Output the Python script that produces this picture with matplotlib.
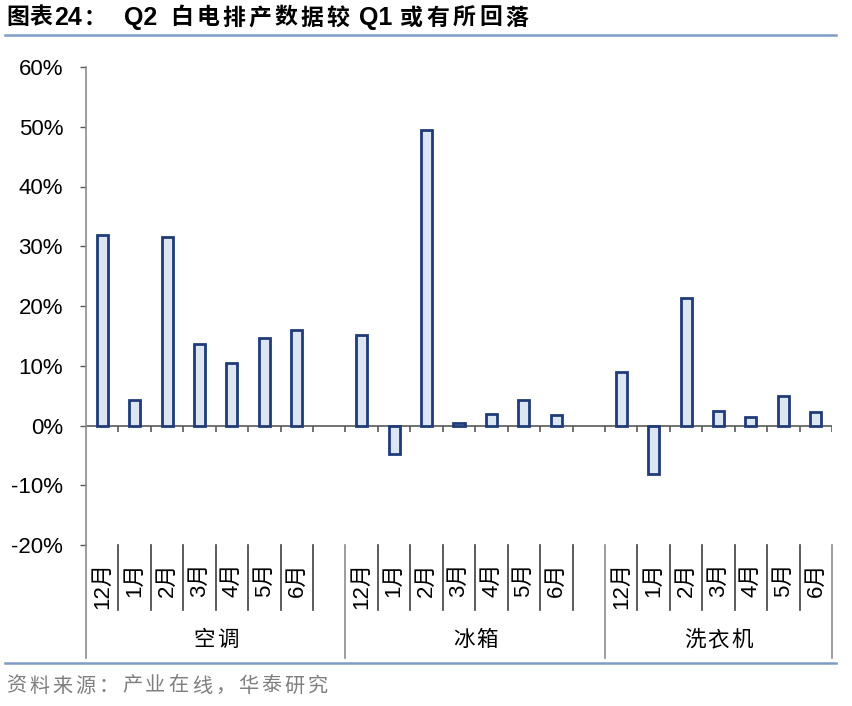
import matplotlib
matplotlib.use("Agg")
import matplotlib.pyplot as plt
from matplotlib.lines import Line2D
import matplotlib.transforms as mtransforms

# data
groups = ["空调", "冰箱", "洗衣机"]
months = ["12月", "1月", "2月", "3月", "4月", "5月", "6月"]
ac_vals = [31.8, 4.2, 31.5, 13.6, 10.4, 14.7, 15.9]
fridge_vals = [15.1, -4.7, 49.4, 0.5, 2.0, 4.2, 1.8]
washer_vals = [9.0, -8.1, 21.4, 2.4, 1.5, 5.0, 2.2]

source = "资料来源：产业在线，华泰研究"

plt.rcParams["font.family"] = ["Liberation Sans", "Noto Sans CJK SC", "DejaVu Sans"]

W, H = 852, 706
fig = plt.figure(figsize=(W / 100, H / 100), dpi=100)


def spaced(x_px, y_px, s, step, **kw):
    # CJK text with wider letter spacing, one char at a time
    for i, ch in enumerate(s):
        fig.text((x_px + i * step) / W, 1 - y_px / H, ch, ha="left", va="center", **kw)


ax_left, ax_right, ax_top, ax_bot = 86, 832, 67, 545
ax = fig.add_axes([ax_left / W, 1 - ax_bot / H, (ax_right - ax_left) / W, (ax_bot - ax_top) / H])

# slots: 8 per group, last group only 7 (no trailing gap)
all_vals = [ac_vals, fridge_vals, washer_vals]
group_starts = [0, 8, 16]
n_slots = 8 + 8 + 7
xs, ys = [], []
for g, vals in enumerate(all_vals):
    for i, v in enumerate(vals):
        xs.append(group_starts[g] + i + 0.5)
        ys.append(v / 100)

ax.bar(xs, ys, width=0.34, color="#DCE6F2", edgecolor="#1F3C78", linewidth=2.0, zorder=3)

ax.set_xlim(0, n_slots)
ax.set_ylim(-0.2, 0.6)
ax.set_yticks([-0.2, -0.1, 0, 0.1, 0.2, 0.3, 0.4, 0.5, 0.6])
ax.set_yticklabels([f"{int(round(t * 100))}%" for t in ax.get_yticks()])
ax.tick_params(axis="y", direction="out", length=4.5, width=1, color="#595959",
               pad=12, labelsize=16, labelcolor="black")
ax.set_xticks([])
for s in ["top", "right", "bottom"]:
    ax.spines[s].set_visible(False)
ax.spines["left"].set_color("#8C8C8C")
ax.spines["left"].set_linewidth(1.2)

# zero line with ticks at slot boundaries
ax.axhline(0, color="#595959", linewidth=1.2, zorder=2)
ax.vlines(range(1, n_slots + 1), -0.011, 0, color="#595959", linewidth=1.2, zorder=2)

# category axis under the plot
trans = mtransforms.blended_transform_factory(ax.transData, ax.transAxes)
ax_h = ax_bot - ax_top
short_y = -(610 - ax_bot) / ax_h
long_y = -(658 - ax_bot) / ax_h
month_y = -(562 - ax_bot) / ax_h

for b in range(0, n_slots + 1):
    is_long = b in group_starts or b == n_slots
    ax.add_line(Line2D([b, b], [0, long_y if is_long else short_y], transform=trans,
                       color="#8C8C8C" if is_long else "#404040",
                       linewidth=1.2, clip_on=False))

slot_px = (ax_right - ax_left) / n_slots
group_ends = [8, 16, n_slots]
for g, vals in enumerate(all_vals):
    for i in range(len(vals)):
        ax.text(group_starts[g] + i + 0.5, month_y, months[i], transform=trans,
                rotation=90, ha="center", va="top", fontsize=16, color="black")
    cx = ax_left + (group_starts[g] + group_ends[g]) / 2 * slot_px
    step = 23.5
    spaced(cx - len(groups[g]) * step / 2 + 1, 640, groups[g], step,
           fontsize=15.5, color="black", family=["Noto Sans CJK SC"])

# title
tkw = dict(ha="left", va="center")
spaced(6, 18, "图表", 23.5, fontsize=16.5, fontweight="bold", family=["Noto Sans CJK SC"])
fig.text(54 / W, 1 - 18 / H, "24", fontsize=18, fontweight="bold", **tkw)
fig.text(84 / W, 1 - 18 / H, "：", fontsize=16, fontweight="bold", family=["Noto Sans CJK SC"], **tkw)
fig.text(124 / W, 1 - 18 / H, "Q2", fontsize=18, fontweight="bold", **tkw)
spaced(170, 18, "白电排产数据较", 26, fontsize=16.5, fontweight="bold", family=["Noto Sans CJK SC"])
fig.text(359 / W, 1 - 18 / H, "Q1", fontsize=18, fontweight="bold", **tkw)
spaced(400, 18, "或有所回落", 26.3, fontsize=16.5, fontweight="bold", family=["Noto Sans CJK SC"])

fig.add_artist(Line2D([5 / W, 836 / W], [1 - 35 / H, 1 - 35 / H], transform=fig.transFigure,
                      color="#7F9CC4", linewidth=1.8))
fig.add_artist(Line2D([5 / W, 836 / W], [1 - 663 / H, 1 - 663 / H], transform=fig.transFigure,
                      color="#7F9CC4", linewidth=1.8))

# source note
spaced(6, 686, source, 23.2, fontsize=14.5, color="#7F7F7F", family=["Noto Sans CJK SC"])

fig.savefig("out.png", dpi=100)
